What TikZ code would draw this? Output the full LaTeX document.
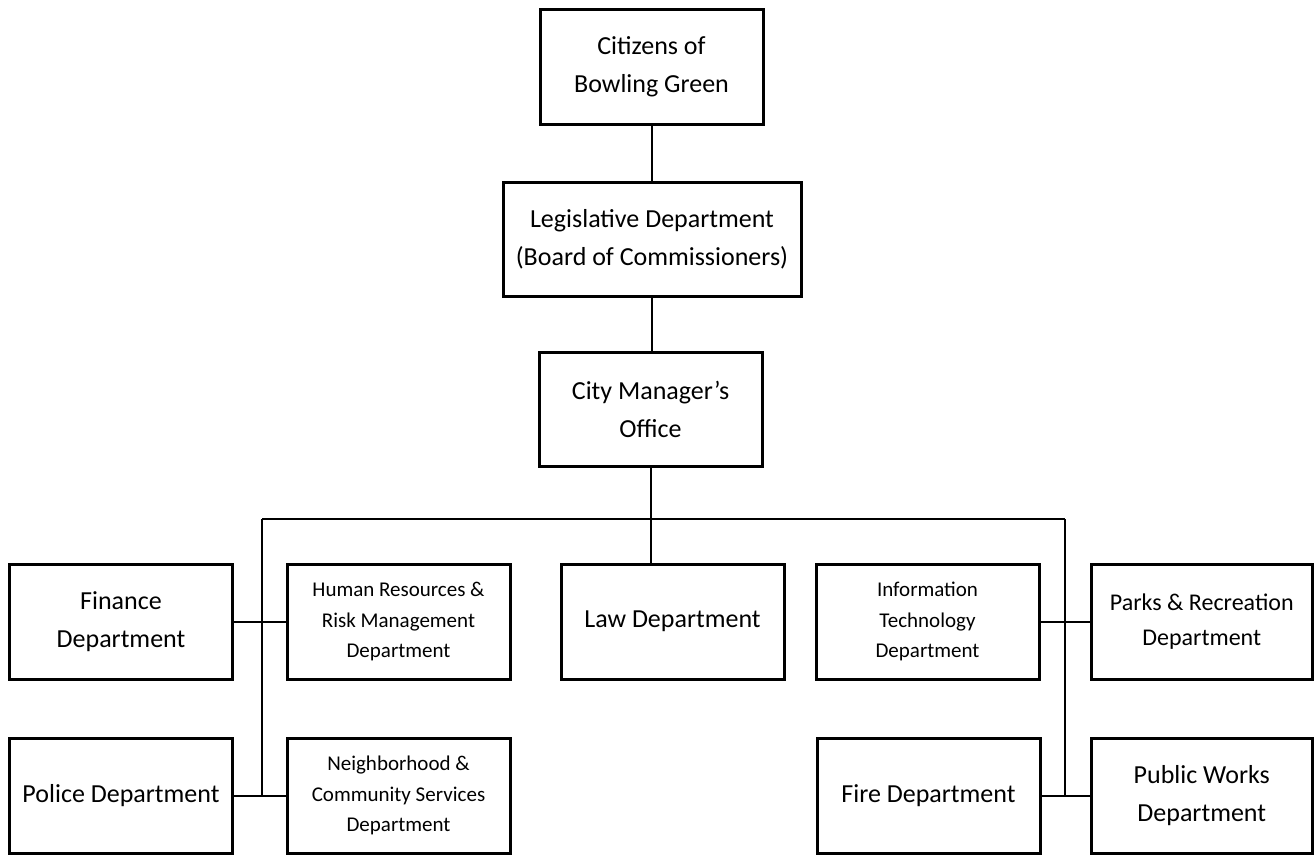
\documentclass[tikz,border=0pt]{standalone}
\usepackage{fontspec}
\setmainfont{Carlito}
\usepackage{tikz}

\begin{document}
\begin{tikzpicture}[x=1pt, y=-1pt,
    box/.style={draw, line width=3pt, align=center, inner sep=0pt, minimum width=223pt, minimum height=115pt, font=\fontsize{26}{38}\selectfont},
    smallbox/.style={box, font=\fontsize{21}{30.5}\selectfont},
    link/.style={line width=2pt}
  ]
    \useasboundingbox (0,0) rectangle (1314,854);

    \node[box] (cit) at (651.5,66.5) {Citizens of\\Bowling Green};
    \node[box, minimum width=298pt, minimum height=114pt] (leg) at (652,239) {Legislative Department\\(Board of Commissioners)};
    \node[box, minimum height=114pt] (cm) at (650.5,409) {City Manager’s\\Office};

    \node[box] (fin) at (121,622) {Finance\\Department};
    \node[smallbox] (hr) at (398.5,622) {Human Resources \&\\Risk Management\\Department};
    \node[box] (law) at (672.5,621.5) {Law Department};
    \node[smallbox] (it) at (927.5,621.5) {Information\\Technology\\Department};
    \node[box, font=\fontsize{24}{35.7}\selectfont, minimum width=221.5pt] (prk) at (1201.75,621.5) {Parks \& Recreation\\Department};

    \node[box] (pol) at (121,795.75) {Police Department};
    \node[smallbox] (nbh) at (398.5,795.75) {Neighborhood \&\\Community Services\\Department};
    \node[box] (fire) at (928.5,795.75) {Fire Department};
    \node[box, minimum width=221.5pt] (pw) at (1201.75,795.75) {Public Works\\Department};

    \coordinate (busL) at (262,519);
    \coordinate (busR) at (1065,519);

    \draw[link] (cit.south) -- (cit.south |- leg.north);
    \draw[link] (leg.south) -- (leg.south |- cm.north);
    \draw[link] (cm.south) -- (cm.south |- law.north);
    \draw[link] (busL) -- (busR);
    \draw[link] (busL) -- (busL |- pol.east);
    \draw[link] (busR) -- (busR |- pw.west);
    \draw[link] (fin) -- (hr);
    \draw[link] (pol) -- (nbh);
    \draw[link] (it) -- (prk);
    \draw[link] (fire) -- (pw);
  \end{tikzpicture}
\end{document}
